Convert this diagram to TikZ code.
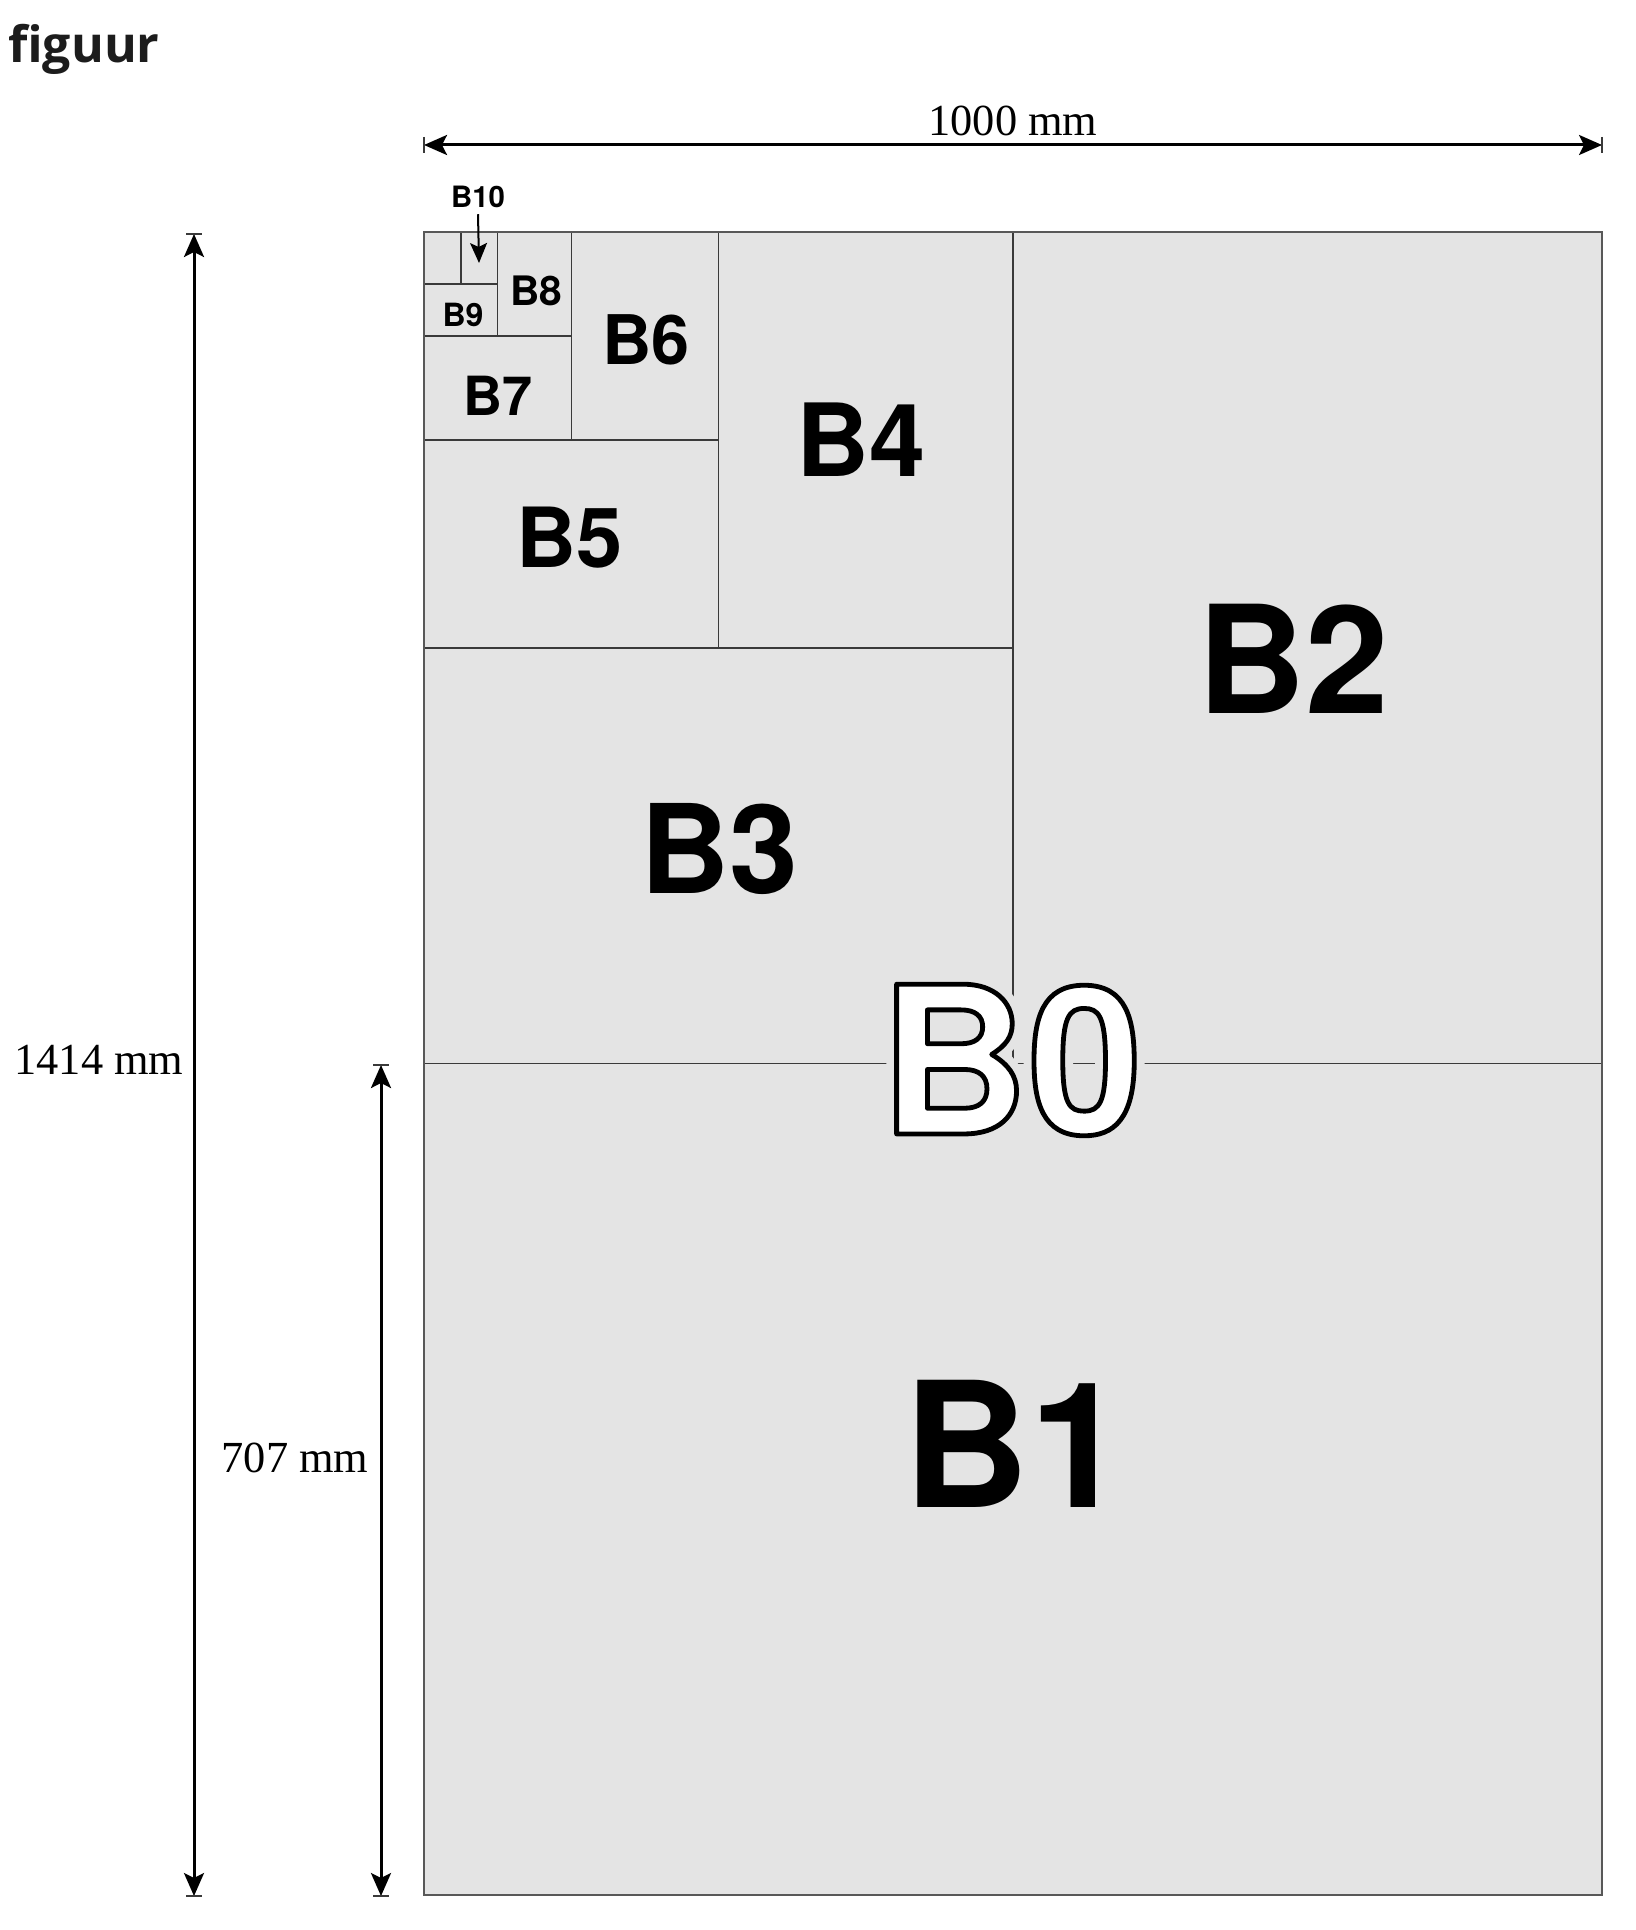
\documentclass[tikz,border=0pt]{standalone}
\usepackage{fontspec}
\usetikzlibrary{arrows.meta}
\newfontfamily\arialf{TeX Gyre Heros}
\newfontfamily\tnrf{Liberation Serif}
\newfontfamily\osansf{Open Sans}
\definecolor{paper}{HTML}{E4E4E4}
\definecolor{rule}{HTML}{3A3A3A}
\definecolor{titlec}{HTML}{1C1C1C}
\newcommand\haloText[1]{\textcolor{paper}{\special{pdf:literal direct 1 j 1 J 10.3 w 2 Tr}#1\special{pdf:literal direct 0 Tr}}}
\newcommand\outlText[1]{\textcolor{white}{\special{pdf:literal direct 0 0 0 RG 1 j 2.4 w 2 Tr}#1\special{pdf:literal direct 0 Tr}}}
\newcommand\bsz[1]{\arialf\bfseries\fontsize{#1}{#1}\selectfont}
\begin{document}
\begin{tikzpicture}[x=0.5pt,y=-0.5pt,
  cell/.style={draw=rule,line width=0.75pt},
  blab/.style={inner sep=0pt,anchor=center},
  dimlab/.style={inner sep=0pt,anchor=center,font=\tnrf\fontsize{22.2pt}{22pt}\selectfont},
  dimarr/.style={line width=1.5pt,{Stealth[length=11.5pt,width=10pt,inset=2.5pt]}-{Stealth[length=11.5pt,width=10pt,inset=2.5pt]}},
  ticks/.style={line width=1pt,draw=rule},
  smallarr/.style={line width=1pt,-{Stealth[length=10pt,width=8.5pt,inset=2pt]}}]
\useasboundingbox (0,0) rectangle (1635,1930);
% sheet
\fill[paper] (424,232) rectangle (1602,1895);
\draw[cell] (424,1063.5) -- (1602,1063.5);
\draw[cell] (1013,232) -- (1013,1063.5);
\draw[cell] (424,647.75) -- (1013,647.75);
\draw[cell] (718.5,232) -- (718.5,647.75);
\draw[cell] (424,439.9) -- (718.5,439.9);
\draw[cell] (571.25,232) -- (571.25,439.9);
\draw[cell] (424,335.9) -- (571.25,335.9);
\draw[cell] (497.6,232) -- (497.6,335.9);
\draw[cell] (424,284) -- (497.6,284);
\draw[cell] (460.8,232) -- (460.8,284);
\draw[draw=rule!85!white,line width=1pt] (424,232) rectangle (1602,1895);
% labels
\node[blab,font=\bsz{87.3pt}] (B1) at (1015,1444) {B1};
\node[blab,font=\bsz{75pt}] (B2) at (1293,659) {B2};
\node[blab,font=\bsz{61.8pt}] (B3) at (719,849) {B3};
\node[blab,font=\bsz{50.5pt}] (B4) at (861,440) {B4};
\node[blab,font=\bsz{41.5pt}] (B5) at (570,538) {B5};
\node[blab,font=\bsz{34.2pt}] (B6) at (646,340) {B6};
\node[blab,font=\bsz{27pt}] (B7) at (498,396) {B7};
\node[blab,font=\bsz{20.3pt}] (B8) at (536,291) {B8};
\node[blab,font=\bsz{16pt}] (B9) at (463,315) {B9};
\node[blab,font=\bsz{14.7pt}] (B10) at (478,197) {B10};
\coordinate (B10tip) at (479,263);
\draw[smallarr] (B10.south) ++(0,6) -- (B10tip);
% B0 outlined
\node[blab,font=\bsz{102.7pt}] (B0) at (1011,1060) {\rlap{\haloText{B0}}\outlText{B0}};
% dimensions
\coordinate (dTL) at (424,145);
\coordinate (dTR) at (1602,145);
\coordinate (dLT) at (194,234);
\coordinate (dLB) at (194,1896);
\coordinate (dRT) at (381,1065);
\coordinate (dRB) at (381,1896);
\draw[dimarr] (dTL) -- (dTR);
\draw[dimarr] (dLT) -- (dLB);
\draw[dimarr] (dRT) -- (dRB);
\draw[ticks] (dTL) ++(0,-8) -- ++(0,16);
\draw[ticks] (dTR) ++(0,-8) -- ++(0,16);
\draw[ticks] (dLT) ++(-8,0) -- ++(16,0);
\draw[ticks] (dLB) ++(-8,0) -- ++(16,0);
\draw[ticks] (dRT) ++(-8,0) -- ++(16,0);
\draw[ticks] (dRB) ++(-8,0) -- ++(16,0);
\node[dimlab] (w) at (1013,121) {1000 mm};
\node[dimlab] (h) at (99,1060) {1414 mm};
\node[dimlab] (hh) at (295,1458) {707 mm};
% title
\node[inner sep=0pt,anchor=base west,text=titlec,font=\osansf\bfseries\fontsize{25pt}{25pt}\selectfont] (title) at (8,63) {figuur};
\end{tikzpicture}
\end{document}
